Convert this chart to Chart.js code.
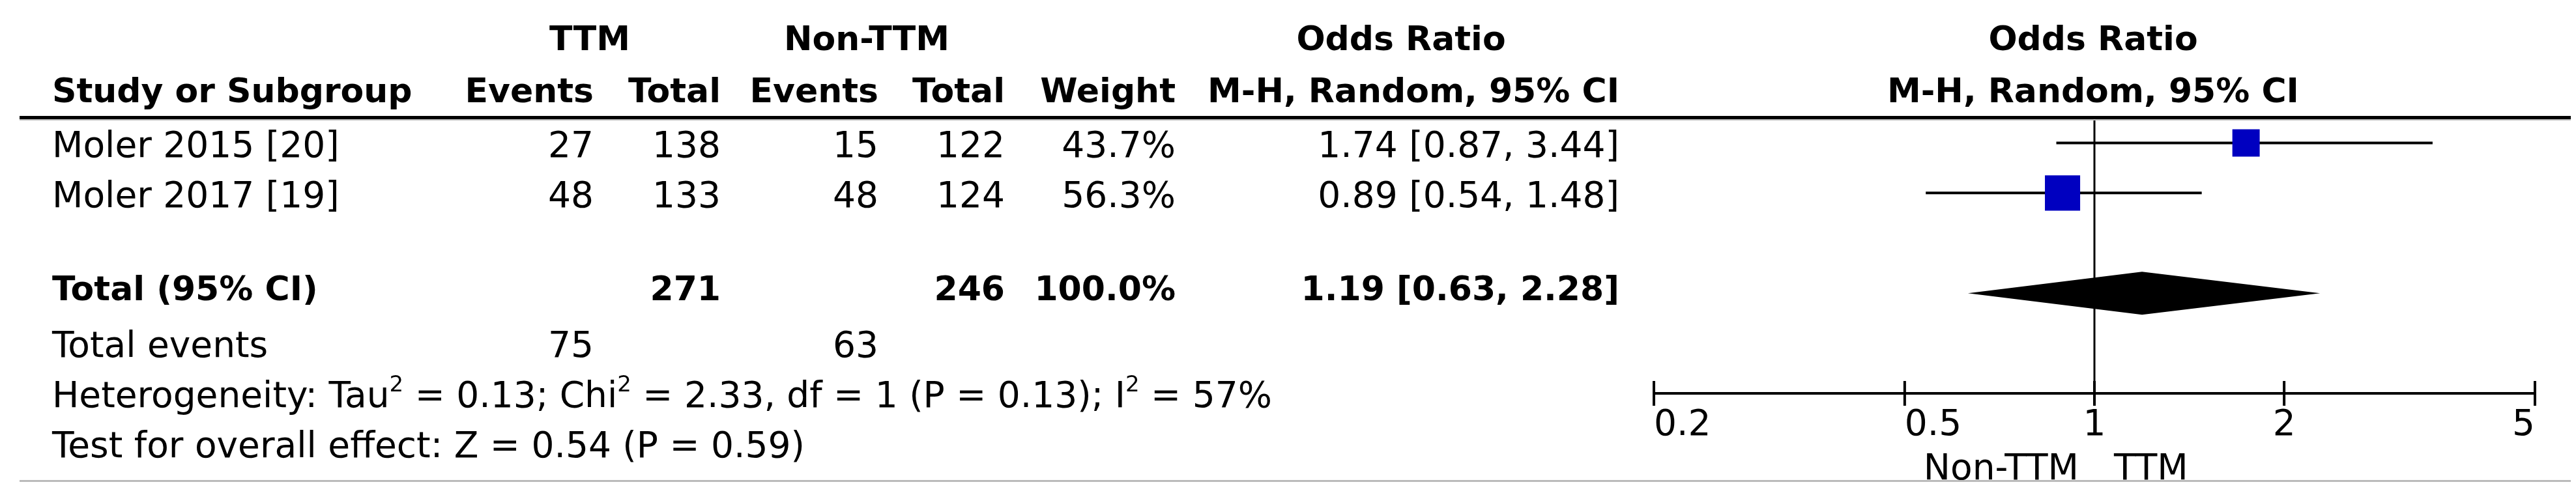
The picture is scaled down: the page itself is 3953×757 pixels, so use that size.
<!DOCTYPE html>
<html>
<head>
<meta charset="utf-8">
<script src="https://cdn.jsdelivr.net/npm/chart.js@4"></script>
<style>
  body { margin: 0; background: #fff; }
  canvas { display: block; }
</style>
</head>
<body>
<canvas id="forest" width="3953" height="757"></canvas>
<script>
// study data
const studies = ['Moler 2015 [20]', 'Moler 2017 [19]'];
const ttmEvents = [27, 48];
const ttmTotal = [138, 133];
const nonEvents = [15, 48];
const nonTotal = [122, 124];
const weights = [43.7, 56.3];
const oddsRatio = [1.74, 0.89];
const ciLow = [0.87, 0.54];
const ciHigh = [3.44, 1.48];
const rowPos = [0.5, 1.5];

// pooled result
const pooled = { or: 1.19, lo: 0.63, hi: 2.28, row: 3.5 };
const totals = { ttm: 271, non: 246, weight: '100.0%', ttmEvents: 75, nonEvents: 63 };

const xTicks = [0.2, 0.5, 1, 2, 5];

const FONT = '"DejaVu Sans", sans-serif';
const SIZE = 55;
const BOLD_SIZE = 52;

// column right edges for the table
const cols = { ev1: 911, tot1: 1106, ev2: 1348, tot2: 1542, weight: 1804, ci: 2485 };

function txt(ctx, s, x, y, align, bold) {
    ctx.font = bold ? 'bold ' + BOLD_SIZE + 'px ' + FONT : SIZE + 'px ' + FONT;
    ctx.textAlign = align || 'left';
    ctx.textBaseline = 'middle';
    ctx.fillText(s, x, y);
}

// draw a run of [text, isSuperscript] pieces
function richText(ctx, parts, x, y) {
    ctx.textAlign = 'left';
    ctx.textBaseline = 'middle';
    parts.forEach(([s, sup]) => {
        ctx.font = (sup ? 34 : SIZE) + 'px ' + FONT;
        ctx.fillText(s, x, sup ? y - 19 : y);
        x += ctx.measureText(s).width;
    });
}

const forestPlugin = {
    id: 'forest',
    beforeDatasetsDraw(chart) {
        const ctx = chart.ctx;
        const xs = chart.scales.x, ys = chart.scales.y;
        const area = chart.chartArea;
        ctx.save();
        ctx.fillStyle = '#000';
        ctx.strokeStyle = '#000';

        // line of no effect
        ctx.lineWidth = 3;
        const x1 = xs.getPixelForValue(1);
        ctx.beginPath();
        ctx.moveTo(x1, area.top);
        ctx.lineTo(x1, area.bottom);
        ctx.stroke();

        // whiskers
        ctx.lineWidth = 4;
        studies.forEach((s, i) => {
            const y = ys.getPixelForValue(rowPos[i]);
            ctx.beginPath();
            ctx.moveTo(xs.getPixelForValue(ciLow[i]), y);
            ctx.lineTo(xs.getPixelForValue(ciHigh[i]), y);
            ctx.stroke();
        });

        // pooled diamond
        const py = ys.getPixelForValue(pooled.row);
        ctx.beginPath();
        ctx.moveTo(xs.getPixelForValue(pooled.lo), py);
        ctx.lineTo(xs.getPixelForValue(pooled.or), py - 33);
        ctx.lineTo(xs.getPixelForValue(pooled.hi), py);
        ctx.lineTo(xs.getPixelForValue(pooled.or), py + 33);
        ctx.closePath();
        ctx.fill();

        // x axis
        const ay = area.bottom;
        ctx.lineWidth = 4;
        ctx.beginPath();
        ctx.moveTo(xs.getPixelForValue(xTicks[0]), ay);
        ctx.lineTo(xs.getPixelForValue(xTicks[xTicks.length - 1]), ay);
        ctx.stroke();
        xTicks.forEach((t, i) => {
            const tx = xs.getPixelForValue(t);
            ctx.beginPath();
            ctx.moveTo(tx, ay - 19);
            ctx.lineTo(tx, ay + 19);
            ctx.stroke();
            const align = i === 0 || i === 1 ? 'left' : (i === xTicks.length - 1 ? 'right' : 'center');
            txt(ctx, String(t), tx, ay + 50, align);
        });
        txt(ctx, 'Non-TTM', x1 - 24, 722, 'right');
        txt(ctx, 'TTM', x1 + 30, 722, 'left');
        ctx.restore();
    },
    afterDraw(chart) {
        const ctx = chart.ctx;
        ctx.save();
        ctx.fillStyle = '#000';

        // headers
        txt(ctx, 'TTM', 905, 63, 'center', true);
        txt(ctx, 'Non-TTM', 1330, 63, 'center', true);
        txt(ctx, 'Odds Ratio', 2150, 63, 'center', true);
        txt(ctx, 'Odds Ratio', 3212, 63, 'center', true);
        txt(ctx, 'Study or Subgroup', 80, 143, 'left', true);
        txt(ctx, 'Events', cols.ev1, 143, 'right', true);
        txt(ctx, 'Total', cols.tot1, 143, 'right', true);
        txt(ctx, 'Events', cols.ev2, 143, 'right', true);
        txt(ctx, 'Total', cols.tot2, 143, 'right', true);
        txt(ctx, 'Weight', cols.weight, 143, 'right', true);
        txt(ctx, 'M-H, Random, 95% CI', cols.ci, 143, 'right', true);
        txt(ctx, 'M-H, Random, 95% CI', 3212, 143, 'center', true);

        // header rule
        ctx.fillRect(30, 178, 3915, 5);
        ctx.fillStyle = '#bbb';
        ctx.fillRect(30, 183, 3915, 2);
        ctx.fillRect(30, 737, 3915, 3);
        ctx.fillStyle = '#000';

        // study rows
        const rowY = [227, 304];
        studies.forEach((s, i) => {
            const y = rowY[i];
            txt(ctx, s, 80, y);
            txt(ctx, String(ttmEvents[i]), cols.ev1, y, 'right');
            txt(ctx, String(ttmTotal[i]), cols.tot1, y, 'right');
            txt(ctx, String(nonEvents[i]), cols.ev2, y, 'right');
            txt(ctx, String(nonTotal[i]), cols.tot2, y, 'right');
            txt(ctx, weights[i].toFixed(1) + '%', cols.weight, y, 'right');
            txt(ctx, oddsRatio[i].toFixed(2) + ' [' + ciLow[i].toFixed(2) + ', ' + ciHigh[i].toFixed(2) + ']', cols.ci, y, 'right');
        });

        // total row
        txt(ctx, 'Total (95% CI)', 80, 447, 'left', true);
        txt(ctx, String(totals.ttm), cols.tot1, 447, 'right', true);
        txt(ctx, String(totals.non), cols.tot2, 447, 'right', true);
        txt(ctx, totals.weight, cols.weight, 447, 'right', true);
        txt(ctx, pooled.or.toFixed(2) + ' [' + pooled.lo.toFixed(2) + ', ' + pooled.hi.toFixed(2) + ']', cols.ci, 447, 'right', true);

        txt(ctx, 'Total events', 80, 534);
        txt(ctx, String(totals.ttmEvents), cols.ev1, 534, 'right');
        txt(ctx, String(totals.nonEvents), cols.ev2, 534, 'right');

        richText(ctx, [['Heterogeneity: Tau'], ['2', true], [' = 0.13; Chi'], ['2', true],
            [' = 2.33, df = 1 (P = 0.13); I'], ['2', true], [' = 57%']], 80, 611);
        txt(ctx, 'Test for overall effect: Z = 0.54 (P = 0.59)', 80, 688);
        ctx.restore();
    }
};

new Chart(document.getElementById('forest'), {
    type: 'scatter',
    data: {
        datasets: [{
            data: studies.map((s, i) => ({ x: oddsRatio[i], y: rowPos[i] })),
            pointStyle: 'rect',
            pointRadius: weights.map(w => w * 0.96 / Math.SQRT2),
            pointHoverRadius: weights.map(w => w * 0.96 / Math.SQRT2),
            backgroundColor: '#0000c0',
            borderColor: '#0000c0',
            borderWidth: 0
        }]
    },
    options: {
        responsive: false,
        animation: false,
        devicePixelRatio: 1,
        layout: { padding: { left: 2538, right: 3953 - 3890, top: 181, bottom: 757 - 604 } },
        plugins: { legend: { display: false }, tooltip: { enabled: false } },
        scales: {
            x: { type: 'logarithmic', min: 0.2, max: 5, display: false },
            y: { type: 'linear', min: 0, max: 5.5, reverse: true, display: false }
        }
    },
    plugins: [forestPlugin]
});
</script>
</body>
</html>
